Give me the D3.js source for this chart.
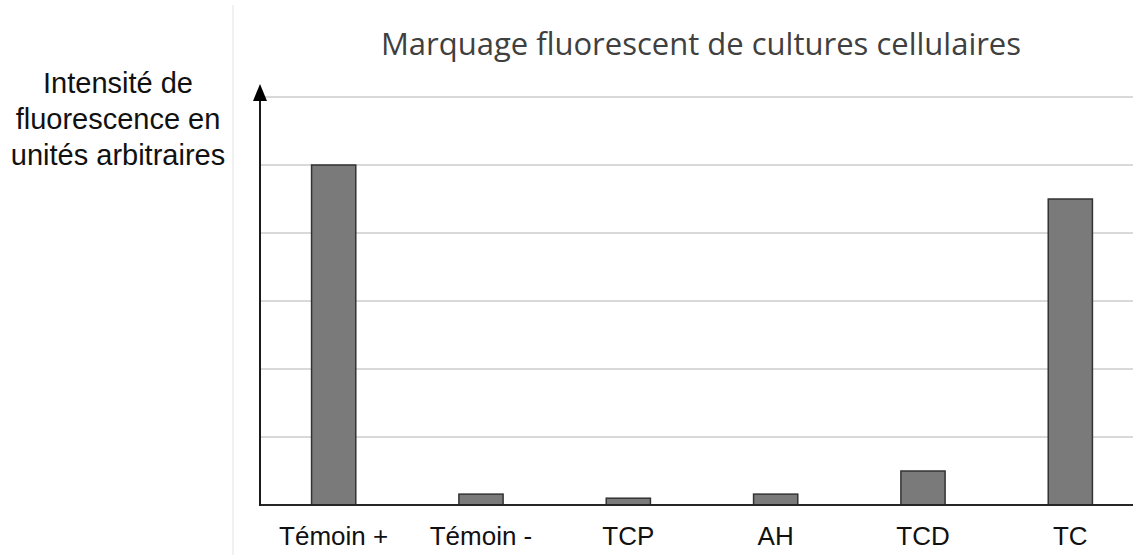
<!DOCTYPE html>
<html>
<head>
<meta charset="utf-8">
<script src="https://cdn.jsdelivr.net/npm/d3@7"></script>
<style>
  body { margin: 0; background: #fff; }
  svg { display: block; }
</style>
</head>
<body>
<svg id="chart" width="1136" height="555"></svg>
<script>
// données
const categories = ['Témoin +', 'Témoin -', 'TCP', 'AH', 'TCD', 'TC'];
const values = [5, 0.16, 0.1, 0.16, 0.5, 4.5];
const yTicks = [0, 1, 2, 3, 4, 5, 6];
const title = 'Marquage fluorescent de cultures cellulaires';
const yLabel = ['Intensité de', 'fluorescence en', 'unités arbitraires'];

const svg = d3.select('#chart');
const x0 = 260, x1 = 1144, y0 = 505, y1 = 97, gridEnd = 1133;

const x = d3.scaleBand().domain(categories).range([x0, x1]).paddingInner(0.7).paddingOuter(0.35);
const y = d3.scaleLinear().domain([0, 6]).range([y0, y1]);

//bordure grise à gauche
svg.append('line')
  .attr('x1', 233).attr('x2', 233).attr('y1', 5).attr('y2', 555)
  .attr('stroke', '#ececec').attr('stroke-width', 1.5);

//lignes de grille
svg.append('g')
  .selectAll('line')
  .data(yTicks.slice(1))
  .join('line')
  .attr('x1', x0).attr('x2', gridEnd)
  .attr('y1', (d) => y(d)).attr('y2', (d) => y(d))
  .attr('stroke', '#d9d9d9').attr('stroke-width', 2);

//barres
svg.append('g')
  .selectAll('rect')
  .data(values)
  .join('rect')
  .attr('x', (d, i) => x(categories[i]))
  .attr('y', (d) => y(d))
  .attr('width', x.bandwidth())
  .attr('height', (d) => y(0) - y(d))
  .attr('fill', '#7a7a7a')
  .attr('stroke', '#333')
  .attr('stroke-width', 1.5);

//axe des abscisses
svg.append('line')
  .attr('x1', x0).attr('x2', gridEnd).attr('y1', y0).attr('y2', y0)
  .attr('stroke', '#262626').attr('stroke-width', 2);

//axe des ordonnées avec flèche
svg.append('line')
  .attr('x1', x0).attr('x2', x0).attr('y1', y0 + 1).attr('y2', 96)
  .attr('stroke', '#1a1a1a').attr('stroke-width', 2);
svg.append('path')
  .attr('d', `M${x0},84 L${x0 - 7},101 L${x0 + 7},101 Z`)
  .attr('fill', '#000');

//étiquettes des catégories
svg.append('g')
  .selectAll('text')
  .data(categories)
  .join('text')
  .attr('x', (d) => x(d) + x.bandwidth() / 2)
  .attr('y', 545)
  .attr('text-anchor', 'middle')
  .attr('font-family', 'Liberation Sans, Arial, sans-serif')
  .attr('font-size', 26)
  .attr('fill', '#111')
  .text((d) => d);

//titre
svg.append('text')
  .attr('x', 701).attr('y', 55)
  .attr('text-anchor', 'middle')
  .attr('font-family', 'Open Sans, sans-serif')
  .attr('font-size', 31)
  .attr('fill', '#404040')
  .text(title);

//titre de l'axe vertical
svg.append('g')
  .selectAll('text')
  .data(yLabel)
  .join('text')
  .attr('x', 118)
  .attr('y', (d, i) => 93 + i * 36)
  .attr('text-anchor', 'middle')
  .attr('font-family', 'Liberation Sans, Arial, sans-serif')
  .attr('font-size', 29)
  .attr('fill', '#111')
  .text((d) => d);
</script>
</body>
</html>
